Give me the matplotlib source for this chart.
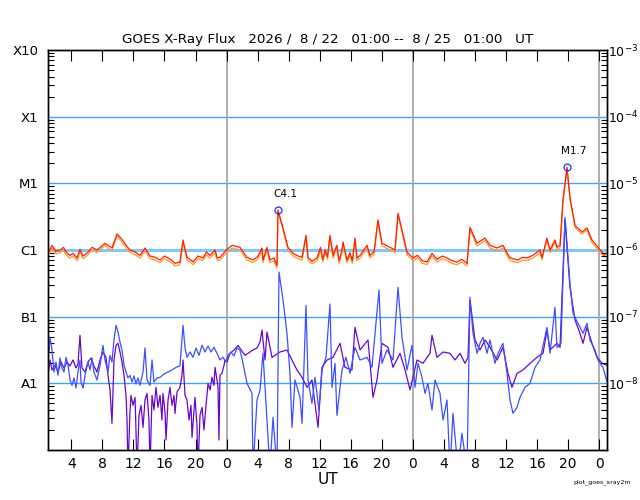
import numpy as np
import matplotlib
matplotlib.use("Agg")
import matplotlib.pyplot as plt
from matplotlib.ticker import LogLocator, NullFormatter

# hours since 2026-08-22 00:00 UT, flux as log10(W/m^2)
long_t = [1.00, 1.52, 2.00, 2.55, 3.00, 3.32, 3.80, 4.22, 4.74, 5.12, 5.51, 6.10, 6.67, 7.31,
          8.34, 8.73, 9.24, 9.89, 10.53, 11.00, 11.56, 12.20, 12.85, 13.49, 14.14, 14.78,
          15.43, 16.00, 16.46, 17.00, 17.36, 18.00, 18.39, 18.90, 19.30, 19.68, 20.32, 20.96,
          21.40, 21.87, 22.51, 22.80, 23.15, 24.06, 24.70, 25.73, 26.20, 26.63, 27.40, 28.00,
          28.56, 28.69, 29.21, 29.59, 30.10, 30.50, 30.62, 31.27, 31.91, 32.56, 33.20, 33.72,
          34.23, 34.49, 35.00, 35.65, 36.10, 36.40, 36.68, 37.00, 37.32, 37.71, 38.20, 38.50,
          38.87, 39.00, 39.51, 39.90, 40.20, 40.54, 40.80, 41.19, 42.09, 42.47, 43.00, 43.50,
          44.02, 45.05, 45.69, 46.08, 46.60, 47.24, 48.01, 48.60, 49.20, 49.82, 50.46, 51.10,
          51.80, 52.39, 53.00, 53.68, 54.30, 54.97, 55.35, 56.26, 57.29, 57.93, 58.83, 59.60,
          60.51, 61.54, 62.10, 62.70, 63.47, 64.37, 64.63, 65.27, 65.66, 66.30, 66.56, 66.95,
          67.33, 67.85, 68.23, 68.88, 69.78, 70.42, 71.07, 71.84, 72.74]
long_primary = [-6.05, -5.93, -6.02, -6.00, -5.96, -6.03, -6.08, -6.05, -6.12, -5.99, -6.09,
                -6.04, -5.96, -6.00, -5.90, -5.93, -5.97, -5.76, -5.84, -5.92, -6.00, -6.03,
                -6.08, -5.97, -6.09, -6.11, -6.15, -6.09, -6.12, -6.16, -6.20, -6.18, -5.85,
                -6.11, -6.14, -6.18, -6.09, -6.12, -6.03, -6.08, -6.00, -6.12, -6.11, -5.99,
                -5.93, -5.96, -6.04, -6.11, -6.15, -6.10, -5.97, -6.15, -5.96, -6.15, -6.12,
                -6.23, -5.40, -5.67, -5.96, -6.05, -6.09, -6.11, -5.78, -6.11, -6.17, -6.12,
                -5.96, -6.14, -6.00, -6.10, -5.78, -6.08, -5.93, -6.16, -6.00, -5.88, -6.15,
                -6.04, -6.16, -5.82, -6.12, -6.08, -5.93, -6.08, -6.02, -5.55, -5.90, -5.96,
                -6.00, -5.45, -5.70, -6.03, -6.12, -6.08, -6.16, -6.18, -6.05, -6.14, -6.09,
                -6.12, -6.16, -6.18, -6.14, -6.20, -5.66, -5.90, -5.82, -5.93, -5.97, -5.93,
                -6.12, -6.15, -6.11, -6.12, -6.08, -6.00, -6.11, -5.82, -6.00, -5.85, -5.96,
                -5.93, -5.25, -4.76, -5.21, -5.63, -5.73, -5.67, -5.85, -5.96, -6.08]
long_secondary = [-6.09, -5.97, -6.06, -6.04, -6.00, -6.07, -6.12, -6.09, -6.16, -6.03, -6.13,
                  -6.08, -6.00, -6.04, -5.93, -5.97, -6.01, -5.79, -5.88, -5.96, -6.04, -6.07,
                  -6.12, -6.01, -6.13, -6.15, -6.19, -6.13, -6.16, -6.20, -6.24, -6.22, -5.88,
                  -6.15, -6.18, -6.22, -6.13, -6.16, -6.07, -6.12, -6.04, -6.16, -6.15, -6.03,
                  -5.97, -6.00, -6.08, -6.15, -6.19, -6.14, -6.01, -6.19, -6.00, -6.19, -6.16,
                  -6.27, -5.42, -5.70, -6.00, -6.09, -6.13, -6.15, -5.81, -6.15, -6.21, -6.16,
                  -6.00, -6.18, -6.04, -6.14, -5.81, -6.12, -5.97, -6.20, -6.04, -5.91, -6.19,
                  -6.08, -6.20, -5.85, -6.16, -6.12, -5.97, -6.12, -6.06, -5.58, -5.94, -6.00,
                  -6.04, -5.48, -5.73, -6.07, -6.16, -6.12, -6.20, -6.22, -6.09, -6.18, -6.13,
                  -6.16, -6.20, -6.22, -6.18, -6.24, -5.69, -5.94, -5.86, -5.97, -6.01, -5.97,
                  -6.16, -6.19, -6.15, -6.16, -6.12, -6.04, -6.15, -5.85, -6.04, -5.88, -6.00,
                  -5.97, -5.28, -4.78, -5.24, -5.66, -5.76, -5.70, -5.89, -6.00, -6.11]

short_t = [1.00, 1.26, 1.52, 1.77, 2.03, 2.29, 2.55, 2.80, 3.06, 3.32, 3.58, 3.83, 4.09, 4.35,
           4.61, 4.86, 5.12, 5.25, 5.51, 5.77, 6.15, 6.41, 6.67, 6.92, 7.31, 7.70, 8.08, 8.34,
           8.73, 8.99, 9.24, 9.50, 9.76, 10.02, 10.27, 10.53, 10.79, 11.05, 11.30, 11.56, 11.82,
           12.08, 12.33, 12.59, 12.85, 13.24, 13.49, 13.75, 14.14, 14.40, 14.65, 15.04, 15.43,
           15.94, 16.46, 16.97, 17.49, 18.00, 18.39, 18.65, 18.90, 19.29, 19.68, 20.06, 20.45,
           20.84, 21.22, 21.61, 22.00, 22.38, 22.77, 23.15, 23.54, 23.93, 24.18, 24.57, 24.96,
           25.34, 25.73,
           26.12, 26.63, 27.28, 27.40, 27.92, 28.31, 28.69, 29.21, 29.59, 29.98, 30.50, 30.75,
           31.27, 31.78, 32.17, 32.43, 32.81, 33.46, 33.72, 34.23, 34.49, 35.00, 35.39, 35.90,
           36.29, 36.81, 37.32, 37.58, 37.97, 38.22, 38.87, 39.38, 39.90, 40.54, 41.19, 42.09,
           42.73, 43.63, 44.02, 44.66, 45.44, 46.08, 46.60, 47.24, 47.88, 48.27, 48.66, 49.17,
           49.56, 49.94, 50.46, 50.85, 51.49, 51.88, 52.39, 52.78, 53.16, 53.81, 54.32, 54.97,
           55.35, 55.74, 56.26, 56.64, 57.03, 57.55, 57.93, 58.57, 58.96, 59.60, 60.12, 60.51,
           60.89, 61.41, 61.79, 62.44, 63.08, 63.73, 64.37, 65.27, 65.66, 66.30, 66.56, 67.07,
           67.59, 68.23, 68.62, 69.26, 69.91, 70.42, 70.81, 71.45, 71.84, 72.48, 73.00]
short_primary = [-7.73, -7.31, -7.50, -7.83, -7.68, -7.88, -7.62, -7.77, -7.83, -7.61, -7.73,
                 -7.95, -8.03, -7.92, -8.07, -7.83, -7.65, -7.98, -8.07, -7.88, -7.68, -7.80,
                 -7.62, -7.83, -7.95, -7.73, -7.43, -7.65, -7.83, -7.58, -7.68, -7.35, -7.13,
                 -7.23, -7.38, -7.50, -7.73, -7.83, -7.92, -7.88, -7.98, -7.89, -8.01, -7.92,
                 -8.03, -7.83, -7.47, -7.95, -8.03, -7.65, -7.98, -7.92, -7.91, -7.86, -7.83,
                 -7.80, -7.76, -7.74, -7.13, -7.47, -7.61, -7.53, -7.61, -7.47, -7.58, -7.43,
                 -7.53, -7.44, -7.53, -7.46, -7.55, -7.65, -7.61, -7.68, -7.58, -7.53, -7.59,
                 -7.47, -7.50,
                 -7.70, -8.00, -8.15, -9.30, -8.25, -8.10, -7.55, -8.55, -9.30, -8.51, -9.30,
                 -6.33, -6.75, -7.25, -7.85, -8.66, -7.95, -8.21, -8.60, -6.83, -7.95, -8.30,
                 -7.91, -8.40, -7.80, -7.61, -6.81, -8.06, -7.70, -8.48, -7.80, -7.61, -7.85,
                 -7.46, -7.65, -7.61, -7.76, -6.60, -7.70, -7.50, -7.65, -6.56, -7.31, -7.80,
                 -7.43, -8.06, -7.70, -7.91, -8.15, -8.00, -8.40, -7.95, -8.15, -8.55, -8.25,
                 -9.30, -8.45, -9.30, -8.75, -9.30, -6.71, -7.25, -7.55, -7.40, -7.31, -7.55,
                 -7.35, -7.70, -7.55, -7.40, -7.85, -8.25, -8.45, -8.36, -8.21, -8.06, -8.00,
                 -7.76, -7.65, -7.16, -7.55, -6.86, -7.46, -7.40, -5.51, -6.50, -6.95, -7.10,
                 -7.25, -7.10, -7.35, -7.50, -7.65, -7.76, -7.98]

short2_t = [1.00, 1.26, 1.52, 1.90, 2.29, 2.67, 3.06, 3.45, 3.83, 4.22, 4.61, 4.86, 5.12, 5.38,
            5.77, 6.15, 6.54, 6.92, 7.31, 7.70, 8.08, 8.47, 8.73, 8.99, 9.24, 9.50, 9.76, 10.02,
            10.27, 10.53, 10.79, 11.05, 11.18, 11.30, 11.56, 11.69, 11.95, 12.21, 12.33, 12.46,
            12.72, 12.98, 13.24, 13.49, 13.75, 14.01, 14.14, 14.40, 14.65, 14.91, 15.17, 15.43,
            15.68, 15.81, 16.07, 16.20, 16.46, 16.71, 16.97, 17.23, 17.36, 17.62, 18.00, 18.26,
            18.39, 18.65, 18.90, 19.16, 19.42, 19.55, 19.80, 19.93, 20.19, 20.32, 20.58, 20.84,
            21.09, 21.22, 21.48, 21.61, 21.87, 22.12, 22.38, 22.51, 22.77, 22.90, 23.02, 23.15,
            23.41, 23.67, 23.80, 24.06, 24.44, 24.96, 25.47,
            26.37, 27.40, 27.92, 28.31, 28.56, 28.95, 29.21, 29.85, 30.24, 30.88, 31.78, 32.43,
            33.07, 33.72, 34.36, 35.00, 35.78, 36.29, 36.94, 37.71, 38.61, 39.25, 40.15, 40.54,
            41.19, 42.22, 42.86, 43.37, 44.02, 44.79, 45.44, 46.34, 46.99, 47.63, 48.53, 49.30,
            50.20, 50.46, 51.10, 51.88, 52.78, 53.42, 54.07, 54.71, 55.10, 55.35, 56.00, 56.64,
            57.29, 57.93, 58.83, 59.60, 60.25, 60.76, 61.41, 62.18, 63.08, 63.98, 64.76, 65.27,
            65.66, 66.56, 66.95, 67.59, 68.23, 68.88, 69.52, 69.91, 70.42, 71.07, 71.71, 72.36,
            73.00]
short_secondary = [-7.88, -7.65, -7.80, -7.73, -7.83, -7.68, -7.77, -7.68, -7.74, -7.65, -7.77,
                   -7.71, -7.28, -7.77, -7.83, -7.68, -7.62, -7.74, -7.83, -7.65, -7.53, -7.61,
                   -7.88, -8.10, -8.60, -7.65, -7.43, -7.40, -7.53, -7.68, -7.88, -8.18, -8.55,
                   -9.30, -8.43, -8.18, -8.33, -8.21, -8.70, -9.30, -8.48, -8.33, -8.66, -8.25,
                   -8.15, -8.55, -9.30, -8.18, -8.40, -8.06, -8.36, -8.18, -8.55, -8.15, -8.43,
                   -8.85, -8.25, -8.06, -8.33, -8.18, -8.45, -8.13, -8.06, -7.88, -7.65, -8.18,
                   -8.25, -8.55, -8.33, -8.81, -8.40, -8.21, -8.63, -9.30, -8.48, -8.36, -8.70,
                   -8.51, -8.18, -8.00, -8.10, -7.91, -8.03, -7.76, -7.95, -8.06, -8.85, -7.88,
                   -7.85, -7.73, -7.65, -7.68, -7.55, -7.50, -7.43,
                   -7.58, -7.50, -7.47, -7.38, -7.20, -7.65, -7.23, -7.61, -7.58, -7.53, -7.50,
                   -7.65, -7.80, -7.91, -8.06, -7.95, -8.66, -7.76, -7.65, -7.61, -7.40, -7.76,
                   -7.80, -7.16, -7.50, -7.35, -8.21, -7.95, -7.40, -7.46, -7.76, -7.55, -7.80,
                   -8.10, -7.65, -7.70, -7.55, -7.28, -7.61, -7.53, -7.55, -7.65, -7.55, -7.70,
                   -7.61, -6.75, -7.35, -7.50, -7.35, -7.46, -7.65, -7.46, -7.85, -8.06, -7.85,
                   -7.80, -7.70, -7.61, -7.55, -7.20, -7.50, -7.40, -7.46, -5.55, -6.56, -7.05,
                   -7.25, -7.40, -7.16, -7.40, -7.61, -7.70, -7.73]

flare_labels = ["C4.1", "M1.7"]
flare_t = [30.62, 67.85]
flare_log = [-5.40, -4.76]

hour_ticks = [4, 8, 12, 16, 20, 24, 28, 32, 36, 40, 44, 48, 52, 56, 60, 64, 68, 72]
hour_labels = ["4", "8", "12", "16", "20", "0", "4", "8", "12", "16", "20", "0",
               "4", "8", "12", "16", "20", "0"]
day_lines = [24, 48, 72]
class_levels = [1e-3, 1e-4, 1e-5, 1e-6, 1e-7, 1e-8]
class_labels = ["X10", "X1", "M1", "C1", "B1", "A1"]
power_labels = ["$10^{-3}$", "$10^{-4}$", "$10^{-5}$", "$10^{-6}$", "$10^{-7}$", "$10^{-8}$"]


def pw(vals):
    return 10.0 ** np.asarray(vals)


fig = plt.figure(figsize=(6.4, 5.0), dpi=100)
ax = fig.add_axes([48 / 640, 50 / 500, 559 / 640, 400 / 500])

# grid
for lv in [1e-4, 1e-5, 1e-7, 1e-8]:
    ax.axhline(lv, color="#3aa6f5", lw=1.0, zorder=1)
ax.axhline(1e-6, color="#80c8fa", lw=2.2, zorder=1)
for d in day_lines:
    ax.axvline(d, color="#a8a8a8", lw=1.3, zorder=1)

ax.plot(short2_t, pw(short_secondary), color="#6a06cc", lw=0.9, zorder=2)
ax.plot(short_t, pw(short_primary), color="#3c50ff", lw=0.9, zorder=3)
ax.plot(long_t, pw(long_secondary), color="#ff9a2a", lw=0.9, zorder=4)
ax.plot(long_t, pw(long_primary), color="#ff1e00", lw=0.9, zorder=5)

for lab, t, lv in zip(flare_labels, flare_t, flare_log):
    ax.plot(t, 10 ** lv, "o", ms=5, mfc="none", mec="#2030ff", mew=0.9, zorder=6)
    ax.annotate(lab, (t, 10 ** lv), xytext=(5, 8), textcoords="offset points",
                ha="center", va="bottom", fontsize=7.5)

ax.set_yscale("log")
ax.set_ylim(1e-9, 1e-3)
ax.set_xlim(1, 73)

ax.set_xticks(hour_ticks)
ax.set_xticklabels(hour_labels)
ax.tick_params(axis="x", direction="in", length=8, width=0.8, top=True, labelsize=10, pad=5)
ax.set_yticks(class_levels)
ax.set_yticklabels(class_labels)
ax.yaxis.set_minor_locator(LogLocator(base=10, subs=np.arange(2, 10)))
ax.yaxis.set_minor_formatter(NullFormatter())
ax.tick_params(axis="y", which="major", direction="in", length=0, labelsize=9.5, pad=7)
ax.tick_params(axis="y", which="minor", direction="in", length=4, width=0.8)

ax2 = ax.twinx()
ax2.set_yscale("log")
ax2.set_ylim(1e-9, 1e-3)
ax2.set_yticks(class_levels)
ax2.set_yticklabels(power_labels)
ax2.yaxis.set_minor_locator(LogLocator(base=10, subs=np.arange(2, 10)))
ax2.yaxis.set_minor_formatter(NullFormatter())
ax2.tick_params(axis="y", which="major", direction="in", length=0, labelsize=9, pad=1)
ax2.tick_params(axis="y", which="minor", direction="in", length=4, width=0.8)

for a in (ax, ax2):
    for s in a.spines.values():
        s.set_linewidth(1.0)

ax.set_xlabel("UT", fontsize=11, labelpad=1)
ax.set_title("GOES X-Ray Flux   2026 /  8 / 22   01:00 --  8 / 25   01:00   UT",
             fontsize=9.7, pad=5)
fig.text(0.985, 0.035, "plot_goes_xray2m", fontsize=4.5, ha="right", va="center")

fig.savefig("out.png", dpi=100)
